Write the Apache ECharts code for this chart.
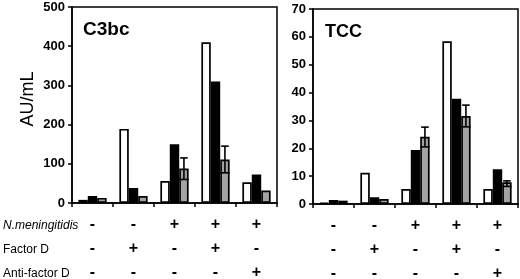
<!DOCTYPE html>
<html><head><meta charset="utf-8">
<script src="https://cdn.jsdelivr.net/npm/echarts@6/dist/echarts.min.js"></script>
<style>html,body{margin:0;padding:0;background:#fff}#c{width:520px;height:279px}</style>
</head><body><div id="c"></div>
<script>
// Row labels below the axes
const rowLabels = ['N.meningitidis', 'Factor D', 'Anti-factor D'];
const nMeningitidis = ['-', '-', '+', '+', '+'];
const factorD = ['-', '+', '-', '+', '-'];
const antiFactorD = ['-', '-', '-', '-', '+'];

// C3bc panel (AU/mL)
const c3bcWhite = [8, 189, 56, 410, 53];
const c3bcBlack = [18, 38, 150, 310, 73];
const c3bcGray  = [13, 18, 88, 111, 32];
const c3bcErrHigh = [null, null, 115, 145, null];
const c3bcErrLow  = [null, null, 60, 77, null];

// TCC panel (AU/mL)
const tccWhite = [0.5, 11.2, 5.4, 58.4, 5.4];
const tccBlack = [1.4, 2.4, 19.4, 37.8, 12.5];
const tccGray  = [1.2, 1.8, 24.1, 31.6, 7.8];
const tccErrHigh = [null, null, 27.6, 35.5, 8.3];
const tccErrLow  = [null, null, 20.5, 27.7, 6.3];

const c3bcTicks = {min: 0, max: 500, interval: 100};
const tccTicks = {min: 0, max: 70, interval: 10};

const cats = nMeningitidis.map((v, i) => v + '\n' + factorD[i] + '\n' + antiFactorD[i]);
const FONT = 'Liberation Sans, Arial, sans-serif';
const GAP = 0.31;

function xAxis(gi) {
  return {
    type: 'category', gridIndex: gi, data: cats,
    axisLine: {lineStyle: {color: '#000', width: 1.5}},
    axisTick: {show: true, length: 4, interval: 0, lineStyle: {color: '#000', width: 1.5}},
    axisLabel: {interval: 0, margin: 10, color: '#000', fontFamily: FONT, fontSize: 16, fontWeight: 'bold', lineHeight: 24}
  };
}
function yAxis(gi, t, margin) {
  return {
    type: 'value', gridIndex: gi, min: t.min, max: t.max, interval: t.interval,
    splitLine: {show: false},
    axisLine: {show: true, lineStyle: {color: '#000', width: 1.5}},
    axisTick: {show: true, length: 4, lineStyle: {color: '#000', width: 1.5}},
    axisLabel: {margin: margin, color: '#000', fontFamily: FONT, fontSize: 13, fontWeight: 'bold'}
  };
}
function bar(gi, data, color) {
  return {
    type: 'bar', xAxisIndex: gi, yAxisIndex: gi, data: data,
    barGap: '0%', barCategoryGap: (GAP * 100) + '%',
    itemStyle: {color: color, borderColor: '#000', borderWidth: 1.7},
    silent: true
  };
}
function errSeries(gi, hi, lo) {
  const d = hi.map((h, i) => [i, h, lo[i]]).filter(r => r[1] != null);
  return {
    type: 'custom', xAxisIndex: gi, yAxisIndex: gi, data: d, z: 10, silent: true,
    renderItem: function (params, api) {
      const bw = api.size([1, 0])[0];
      const barW = bw * (1 - GAP) / 3;
      const pHi = api.coord([api.value(0), api.value(1)]);
      const pLo = api.coord([api.value(0), api.value(2)]);
      const x = pHi[0] + barW;
      const st = {stroke: '#000', lineWidth: 1.6};
      const cap = barW * 0.4;
      return {type: 'group', children: [
        {type: 'line', shape: {x1: x, y1: pHi[1], x2: x, y2: pLo[1]}, style: st},
        {type: 'line', shape: {x1: x - cap, y1: pHi[1], x2: x + cap, y2: pHi[1]}, style: st},
        {type: 'line', shape: {x1: x - barW / 2, y1: pLo[1], x2: x + barW / 2, y2: pLo[1]}, style: st}
      ]};
    }
  };
}

const chart = echarts.init(document.getElementById('c'), null, {renderer: 'canvas'});
const gridStyle = {show: true, borderColor: '#000', borderWidth: 1.5, backgroundColor: 'transparent',
  containLabel: false, outerBoundsMode: 'none'};
chart.setOption({
  animation: false,
  grid: [
    Object.assign({left: 72, top: 7, width: 205, height: 196}, gridStyle),
    Object.assign({left: 313, top: 9, width: 205, height: 195}, gridStyle)
  ],
  xAxis: [xAxis(0), xAxis(1)],
  yAxis: [yAxis(0, c3bcTicks, 7), yAxis(1, tccTicks, 7)],
  series: [
    bar(0, c3bcWhite, '#fff'), bar(0, c3bcBlack, '#000'), bar(0, c3bcGray, '#a3a3a3'),
    errSeries(0, c3bcErrHigh, c3bcErrLow),
    bar(1, tccWhite, '#fff'), bar(1, tccBlack, '#000'), bar(1, tccGray, '#a3a3a3'),
    errSeries(1, tccErrHigh, tccErrLow)
  ],
  graphic: [
    {type: 'text', left: 83, top: 20, style: {text: 'C3bc', fontFamily: FONT, fontSize: 19, fontWeight: 'bold', fill: '#000'}},
    {type: 'text', left: 325, top: 23, style: {text: 'TCC', fontFamily: FONT, fontSize: 18, fontWeight: 'bold', fill: '#000'}},
    {type: 'text', x: 28, y: 99, rotation: Math.PI / 2,
      style: {text: 'AU/mL', fontFamily: FONT, fontSize: 18, fill: '#000', align: 'center', verticalAlign: 'middle'}},
    {type: 'text', x: 3, y: 226, style: {text: rowLabels[0], fontFamily: FONT, fontSize: 12, fontStyle: 'italic', fill: '#000', verticalAlign: 'middle'}},
    {type: 'text', x: 3, y: 250, style: {text: rowLabels[1], fontFamily: FONT, fontSize: 12, fill: '#000', verticalAlign: 'middle'}},
    {type: 'text', x: 3, y: 274, style: {text: rowLabels[2], fontFamily: FONT, fontSize: 12, fill: '#000', verticalAlign: 'middle'}}
  ]
});
</script></body></html>
